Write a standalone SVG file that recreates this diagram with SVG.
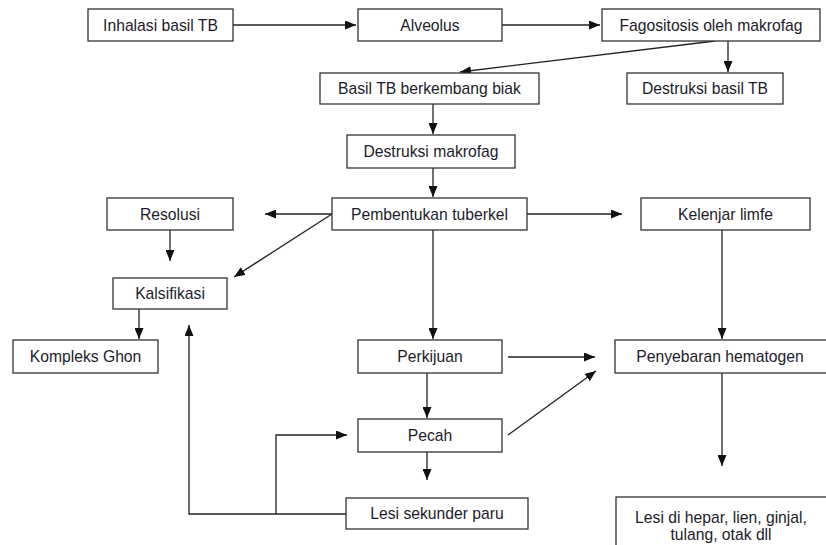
<svg xmlns="http://www.w3.org/2000/svg" width="826" height="545" viewBox="0 0 826 545">
<defs>
<marker id="ah" viewBox="0 0 11 9" refX="11" refY="4.5" markerWidth="11" markerHeight="9" markerUnits="userSpaceOnUse" orient="auto">
<path d="M0,0 L11,4.5 L0,9 Z" fill="#111"/>
</marker>
<style>
.b{fill:#fff;stroke:#333;stroke-width:1.3}
.t{font-family:"Liberation Sans",Arial,sans-serif;font-size:15.7px;fill:#1c1c2a;text-anchor:middle}
.c{fill:none;stroke:#222;stroke-width:1.3}
.a{marker-end:url(#ah)}
</style>
</defs>
<rect width="826" height="545" fill="#fff"/>
<g id="connectors">
<path class="c a" d="M233,25 H356"/>
<path class="c a" d="M502,25 H600"/>
<path class="c a" d="M728,41 V72"/>
<path class="c a" d="M715,41 L460,72"/>
<path class="c a" d="M433,104 V134"/>
<path class="c a" d="M433,168 V197"/>
<path class="c a" d="M332,214 H265"/>
<path class="c a" d="M332,214 L234,277"/>
<path class="c a" d="M527,214 H622"/>
<path class="c a" d="M170,230 V261"/>
<path class="c a" d="M139,309 V339"/>
<path class="c a" d="M433,230 V339"/>
<path class="c a" d="M722,230 V339"/>
<path class="c a" d="M508,357 H595"/>
<path class="c a" d="M508,435 L596,371"/>
<path class="c a" d="M427,373 V418"/>
<path class="c a" d="M427,452 V480"/>
<path class="c a" d="M722,373 V466"/>
<path class="c a" d="M346,514 H189 V325"/>
<path class="c a" d="M276,514 V435 H347"/>
</g>
<g id="n1"><rect class="b" x="88" y="9" width="145" height="32"/><text class="t" x="160.5" y="30.5">Inhalasi basil TB</text></g>
<g id="n2"><rect class="b" x="358" y="9" width="144" height="32"/><text class="t" x="430" y="30.5">Alveolus</text></g>
<g id="n3"><rect class="b" x="602" y="9" width="218" height="32"/><text class="t" x="711" y="30.5">Fagositosis oleh makrofag</text></g>
<g id="n4"><rect class="b" x="320" y="73" width="219" height="31"/><text class="t" x="429.5" y="94">Basil TB berkembang biak</text></g>
<g id="n5"><rect class="b" x="627" y="73" width="156" height="31"/><text class="t" x="705" y="94">Destruksi basil TB</text></g>
<g id="n6"><rect class="b" x="347" y="135" width="168" height="33"/><text class="t" x="431" y="157">Destruksi makrofag</text></g>
<g id="n7"><rect class="b" x="332" y="198" width="195" height="32"/><text class="t" x="429.5" y="219.5">Pembentukan tuberkel</text></g>
<g id="n8"><rect class="b" x="107" y="198" width="126" height="32"/><text class="t" x="170" y="219.5">Resolusi</text></g>
<g id="n9"><rect class="b" x="641" y="198" width="169" height="32"/><text class="t" x="725.5" y="219.5">Kelenjar limfe</text></g>
<g id="n10"><rect class="b" x="113" y="278" width="114" height="31"/><text class="t" x="170" y="299">Kalsifikasi</text></g>
<g id="n11"><rect class="b" x="13" y="340" width="145" height="33"/><text class="t" x="85.5" y="362">Kompleks Ghon</text></g>
<g id="n12"><rect class="b" x="358" y="340" width="144" height="33"/><text class="t" x="430" y="362">Perkijuan</text></g>
<g id="n13"><rect class="b" x="615" y="340" width="215" height="33"/><text class="t" x="720" y="362">Penyebaran hematogen</text></g>
<g id="n14"><rect class="b" x="358" y="419" width="144" height="33"/><text class="t" x="430" y="441">Pecah</text></g>
<g id="n15"><rect class="b" x="346" y="498" width="182" height="31"/><text class="t" x="437" y="519">Lesi sekunder paru</text></g>
<g id="n16"><rect class="b" x="616" y="497" width="214" height="60"/><text class="t" x="721" y="522.5">Lesi di hepar, lien, ginjal,</text><text class="t" x="721" y="539.5">tulang, otak dll</text></g>
</svg>
